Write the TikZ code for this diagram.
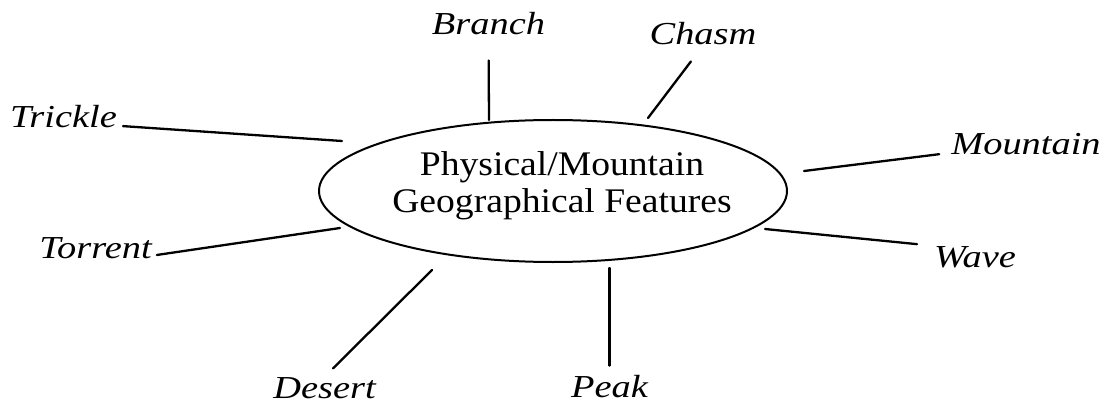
\documentclass[tikz,border=0pt]{standalone}
\usepackage{fontspec}
\setmainfont{Liberation Serif}
\newfontfamily\hubfont[FakeStretch=1.09]{Liberation Serif}
\newfontfamily\featfont[FakeStretch=1.2]{Liberation Serif}
\usepackage{tikz}
\usetikzlibrary{shapes}

\begin{document}
\begin{tikzpicture}[x=1pt, y=-1pt,
    feature/.style={inner sep=0pt, anchor=base, font=\featfont\itshape\fontsize{32}{32}\selectfont},
    link/.style={line width=2.3pt, line cap=round},
    hub/.style={draw, ellipse, line width=2pt, minimum width=468pt, minimum height=142pt, inner sep=0pt}]

    % 1. Fix the page to the size of the scanned figure
    \useasboundingbox (0,0) rectangle (1107,406);

    % 2. The central ellipse and its caption
    \node[hub] (hub) at (553,191) {};
    \node[align=center, inner sep=0pt, font=\hubfont\fontsize{34.5}{37}\selectfont] (caption) at (562,186) {Physical/Mountain\\Geographical Features};

    % 3. The eight features round the ellipse
    \node[feature] (branch)   at (488.5,35)  {Branch};
    \node[feature] (chasm)    at (703,45)    {Chasm};
    \node[feature] (trickle)  at (63.5,128)  {Trickle};
    \node[feature] (mountain) at (1026,155)  {Mountain};
    \node[feature] (torrent)  at (95.5,258)  {Torrent};
    \node[feature] (wave)     at (975,267)   {Wave};
    \node[feature] (desert)   at (324.5,398) {Desert};
    \node[feature] (peak)     at (609.5,397) {Peak};

    % 4. Loose ends of the spokes, just off the ellipse
    \coordinate (branch-end)   at (489,120);
    \coordinate (chasm-end)    at (648,118);
    \coordinate (trickle-end)  at (342,141);
    \coordinate (mountain-end) at (804,171);
    \coordinate (torrent-end)  at (340,228);
    \coordinate (wave-end)     at (765,229);
    \coordinate (desert-end)   at (432,270);
    \coordinate (peak-end)     at (609.5,268);

    % 5. Spokes from each feature towards the ellipse
    \draw[link, shorten <=25pt] (branch.south) -- (branch-end);
    \draw[link, shorten <=20pt] (chasm.south) -- (chasm-end);
    \draw[link, shorten <=6pt]  (trickle.mid east) -- (trickle-end);
    \draw[link, shorten <=12pt] (mountain.mid west) -- (mountain-end);
    \draw[link, shorten <=5pt]  (torrent.mid east) -- (torrent-end);
    \draw[link, shorten <=17pt] (wave.north west) -- (wave-end);
    \draw[link, shorten <=12pt] (desert.north) -- (desert-end);
    \draw[link, shorten <=9pt]  (peak.north) -- (peak-end);
\end{tikzpicture}
\end{document}
